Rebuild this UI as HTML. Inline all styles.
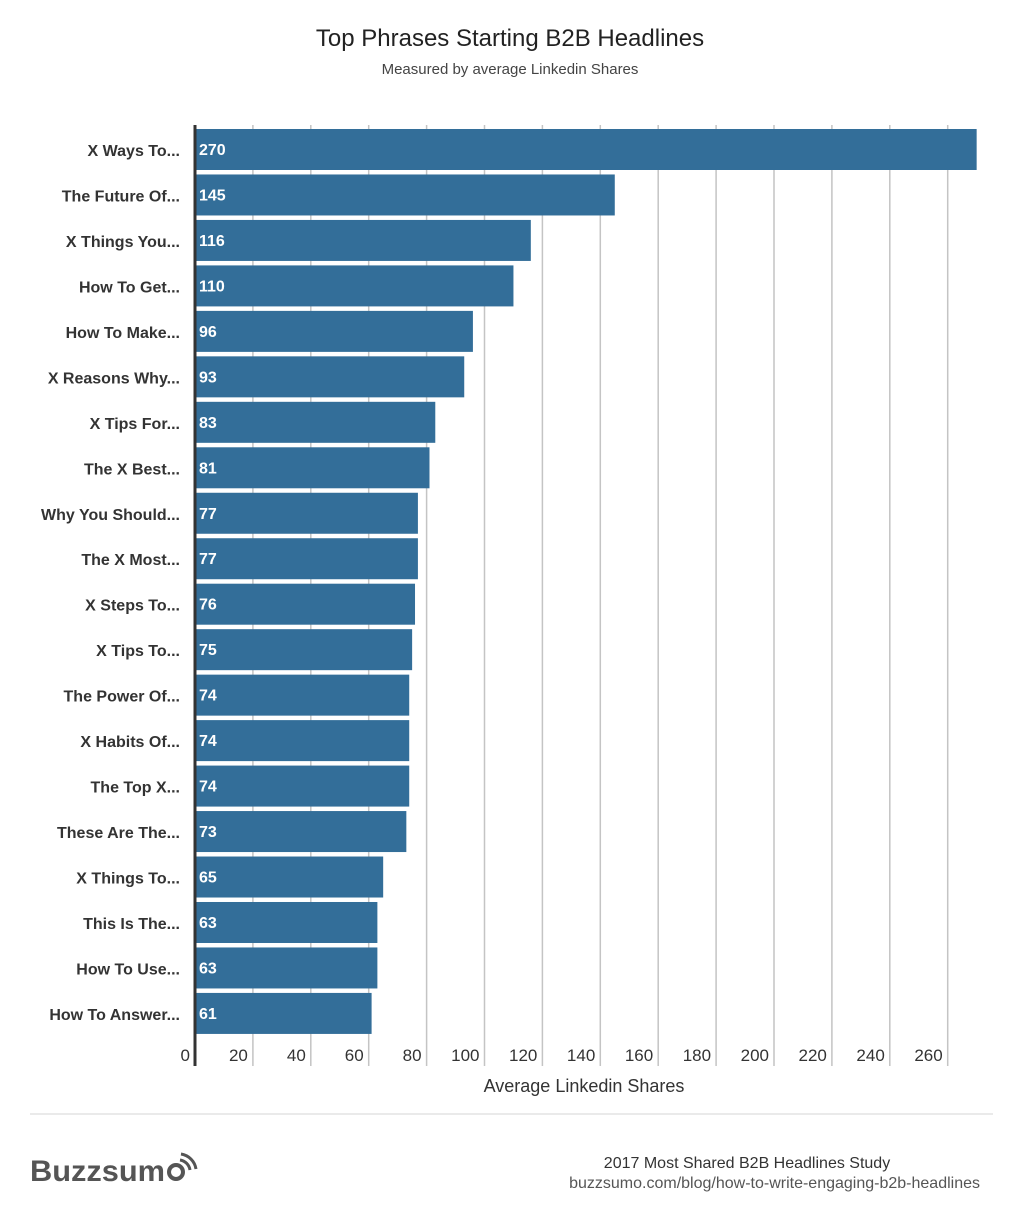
<!DOCTYPE html><html><head><meta charset="utf-8"><style>body{margin:0;background:#fff}svg{display:block}text{font-family:"Liberation Sans",sans-serif}</style></head><body>
<svg width="1024" height="1228" xmlns="http://www.w3.org/2000/svg">
<rect width="1024" height="1228" fill="#fff"/>
<text x="510" y="46" font-size="24" text-anchor="middle" fill="#222">Top Phrases Starting B2B Headlines</text>
<text x="510" y="74" font-size="15" text-anchor="middle" fill="#444">Measured by average Linkedin Shares</text>
<g stroke="#c4c4c4" stroke-width="1.5" id="grid"></g>
<g id="bars"></g>
<line x1="195" y1="125" x2="195" y2="1066" stroke="#333" stroke-width="3"/>
<text x="584" y="1092" font-size="18" text-anchor="middle" fill="#333">Average Linkedin Shares</text>
<line x1="30" y1="1114" x2="993" y2="1114" stroke="#e4e4e4" stroke-width="1.5"/>
<text x="30" y="1181" font-size="30" font-weight="bold" fill="#555" textLength="135" lengthAdjust="spacingAndGlyphs">Buzzsum</text>
<circle cx="176" cy="1172" r="7" fill="none" stroke="#555" stroke-width="4"/>
<path d="M180 1160 a12 12 0 0 1 10 10 M181 1154 a18 18 0 0 1 15 15" fill="none" stroke="#555" stroke-width="3"/>
<text x="747" y="1168" font-size="16" text-anchor="middle" fill="#333">2017 Most Shared B2B Headlines Study</text>
<text x="980" y="1188" font-size="16" text-anchor="end" fill="#555">buzzsumo.com/blog/how-to-write-engaging-b2b-headlines</text>
</svg>
<script>
const d=[["X Ways To...",270],["The Future Of...",145],["X Things You...",116],["How To Get...",110],["How To Make...",96],["X Reasons Why...",93],["X Tips For...",83],["The X Best...",81],["Why You Should...",77],["The X Most...",77],["X Steps To...",76],["X Tips To...",75],["The Power Of...",74],["X Habits Of...",74],["The Top X...",74],["These Are The...",73],["X Things To...",65],["This Is The...",63],["How To Use...",63],["How To Answer...",61]];
const NS="http://www.w3.org/2000/svg",sx=2.895,x0=195;
const g=document.getElementById('grid'),b=document.getElementById('bars');
function el(p,t,a,txt){const e=document.createElementNS(NS,t);for(const k in a)e.setAttribute(k,a[k]);if(txt!=null)e.textContent=txt;p.appendChild(e);return e;}
for(let v=20;v<=260;v+=20){const x=x0+v*sx;el(g,'line',{x1:x,y1:125,x2:x,y2:1066});}
for(let v=0;v<=260;v+=20){const x=x0+v*sx;el(b,'text',{x:x-5,y:1061,'font-size':17,'text-anchor':'end',fill:'#333'},v);}
d.forEach((r,i)=>{const y=129+i*45.47;el(b,'rect',{x:x0,y:y,width:r[1]*sx,height:41,fill:'#336e99'});
el(b,'text',{x:199,y:y+26,'font-size':16,'font-weight':'bold',fill:'#fff'},r[1]);
el(b,'text',{x:180,y:y+27,'font-size':16,'font-weight':'bold','text-anchor':'end',fill:'#333'},r[0]);});
</script>
</body></html>
